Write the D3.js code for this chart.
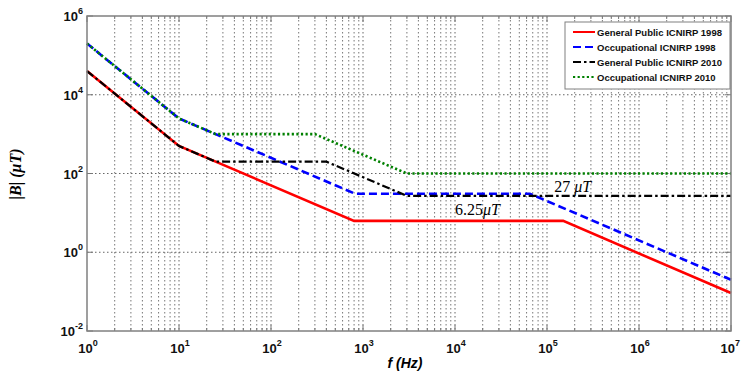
<!DOCTYPE html>
<html>
<head>
<meta charset="utf-8">
<title>ICNIRP limits</title>
<script src="https://d3js.org/d3.v7.min.js"></script>
<style>
  body { margin: 0; background: #fff; }
  text { font-family: "Liberation Sans", Arial, sans-serif; }
</style>
</head>
<body>
<script>
// frequencies (Hz) and field limits (uT) at each breakpoint
var gp1998F  = [1, 10, 25, 800, 150000, 1e7],
    gp1998B  = [40000, 500, 200, 6.25, 6.25, 0.092];
var occ1998F = [1, 10, 25, 820, 65000, 1e7],
    occ1998B = [200000, 2500, 1000, 30.7, 30.7, 0.2];
var gp2010F  = [1, 10, 25, 400, 3000, 1e7],
    gp2010B  = [40000, 500, 200, 200, 27, 27];
var occ2010F = [1, 10, 25, 300, 3000, 1e7],
    occ2010B = [200000, 2500, 1000, 1000, 100, 100];

var seriesNames = ["General Public ICNIRP 1998", "Occupational ICNIRP 1998",
                   "General Public ICNIRP 2010", "Occupational ICNIRP 2010"];
var xTicks = [0, 1, 2, 3, 4, 5, 6, 7];     // exponents
var yTicks = [-2, 0, 2, 4, 6];

var svgWidth = 741, svgHeight = 378;
var margin = {top: 16, right: 10, bottom: 47, left: 87},
    width = svgWidth - margin.left - margin.right,
    height = svgHeight - margin.top - margin.bottom;

var svg = d3.select("body").append("svg")
    .attr("width", svgWidth)
    .attr("height", svgHeight);

var g = svg.append("g")
    .attr("transform", "translate(" + margin.left + "," + margin.top + ")");

var x = d3.scaleLog().domain([1, 1e7]).range([0, width]),
    y = d3.scaleLog().domain([1e-2, 1e6]).range([height, 0]);

// vertical grid: every minor tick
var minor = [];
xTicks.slice(0, -1).forEach(function(e) {
  for (var k = 2; k <= 9; k++) minor.push(k * Math.pow(10, e));
});
g.selectAll(".vminor").data(minor).enter().append("line")
    .attr("x1", d => x(d)).attr("x2", d => x(d))
    .attr("y1", 0).attr("y2", height)
    .attr("stroke", "#777").attr("stroke-width", 1)
    .attr("stroke-dasharray", "1.5,2.5");
g.selectAll(".vmajor").data(xTicks.slice(1, -1)).enter().append("line")
    .attr("x1", d => x(Math.pow(10, d))).attr("x2", d => x(Math.pow(10, d)))
    .attr("y1", 0).attr("y2", height)
    .attr("stroke", "#666").attr("stroke-width", 1)
    .attr("stroke-dasharray", "1.5,2.5");
g.selectAll(".hmajor").data(yTicks.slice(1, -1)).enter().append("line")
    .attr("x1", 0).attr("x2", width)
    .attr("y1", d => y(Math.pow(10, d))).attr("y2", d => y(Math.pow(10, d)))
    .attr("stroke", "#666").attr("stroke-width", 1)
    .attr("stroke-dasharray", "1.5,2.5");

// inward ticks
var tickG = g.append("g").attr("stroke", "#777").attr("stroke-width", 1);
minor.forEach(function(d) {
  tickG.append("line").attr("x1", x(d)).attr("x2", x(d)).attr("y1", height).attr("y2", height - 3);
  tickG.append("line").attr("x1", x(d)).attr("x2", x(d)).attr("y1", 0).attr("y2", 3);
});
xTicks.forEach(function(e) {
  var px = x(Math.pow(10, e));
  tickG.append("line").attr("x1", px).attr("x2", px).attr("y1", height).attr("y2", height - 6);
  tickG.append("line").attr("x1", px).attr("x2", px).attr("y1", 0).attr("y2", 6);
});
yTicks.forEach(function(e) {
  var py = y(Math.pow(10, e));
  tickG.append("line").attr("x1", 0).attr("x2", 6).attr("y1", py).attr("y2", py);
  tickG.append("line").attr("x1", width).attr("x2", width - 6).attr("y1", py).attr("y2", py);
});

// curves
var line = d3.line()
    .x(d => x(d[0]))
    .y(d => y(d[1]));

var series = [
  {f: gp1998F,  b: gp1998B,  color: "#ff0000", w: 2.6, dash: null},
  {f: occ1998F, b: occ1998B, color: "#0000ff", w: 2.6, dash: "8,4"},
  {f: gp2010F,  b: gp2010B,  color: "#000000", w: 2.2, dash: "8,3,2.5,3"},
  {f: occ2010F, b: occ2010B, color: "#008000", w: 2.6, dash: "2.2,2.4"}
];

series.forEach(function(s) {
  g.append("path")
      .datum(d3.zip(s.f, s.b))
      .attr("fill", "none")
      .attr("stroke", s.color)
      .attr("stroke-width", s.w)
      .attr("stroke-dasharray", s.dash)
      .attr("d", line);
});

// frame
g.append("rect")
    .attr("width", width).attr("height", height)
    .attr("fill", "none").attr("stroke", "#808080").attr("stroke-width", 1.5);

// tick labels
function tenTo(sel, e) {
  sel.append("tspan").text("10");
  sel.append("tspan").attr("dy", -7).attr("font-size", 9).text(e);
}
xTicks.forEach(function(e, i) {
  var last = i === xTicks.length - 1;
  var t = g.append("text")
      .attr("x", last ? svgWidth - margin.left - 1 : x(Math.pow(10, e)) + 1)
      .attr("y", height + 22)
      .attr("text-anchor", last ? "end" : "middle")
      .attr("font-size", 13).attr("font-weight", "bold").attr("fill", "#111");
  tenTo(t, e);
});
yTicks.forEach(function(e) {
  var t = g.append("text")
      .attr("x", -4).attr("y", y(Math.pow(10, e)) + 5)
      .attr("text-anchor", "end")
      .attr("font-size", 13).attr("font-weight", "bold").attr("fill", "#111");
  tenTo(t, e);
});

// axis titles
svg.append("text")
    .attr("x", 405).attr("y", 368)
    .attr("text-anchor", "middle")
    .attr("font-size", 14).attr("font-weight", "bold").attr("font-style", "italic")
    .text("f (Hz)");
svg.append("text")
    .attr("transform", "translate(21,174) rotate(-90)")
    .attr("text-anchor", "middle")
    .style("font-family", "'Liberation Serif', 'Times New Roman', serif")
    .attr("font-size", 16).attr("font-weight", "bold").attr("font-style", "italic")
    .text("|B| (\u03bcT)");

// annotations
var a1 = g.append("text")
    .attr("x", x(1.2e5)).attr("y", y(27) - 4)
    .style("font-family", "'Liberation Serif', 'Times New Roman', serif")
    .attr("font-size", 16);
a1.append("tspan").text("27 ");
a1.append("tspan").attr("font-style", "italic").text("\u03bcT");
var a2 = g.append("text")
    .attr("x", x(1.0e4)).attr("y", y(6.25) - 6)
    .style("font-family", "'Liberation Serif', 'Times New Roman', serif")
    .attr("font-size", 16);
a2.append("tspan").text("6.25");
a2.append("tspan").attr("font-style", "italic").text("\u03bcT");

// legend
var lg = svg.append("g").attr("transform", "translate(565,22)");
lg.append("rect")
    .attr("width", 165).attr("height", 67)
    .attr("fill", "#fff").attr("stroke", "#808080").attr("stroke-width", 1);
series.forEach(function(s, i) {
  var yy = 10 + i * 15;
  lg.append("line")
      .attr("x1", 8).attr("x2", 30).attr("y1", yy).attr("y2", yy)
      .attr("stroke", s.color).attr("stroke-width", 2)
      .attr("stroke-dasharray", s.dash);
  lg.append("text")
      .attr("x", 32).attr("y", yy + 3.5)
      .attr("font-size", 9.5).attr("font-weight", "bold").attr("fill", "#111")
      .text(seriesNames[i]);
});
</script>
</body>
</html>
